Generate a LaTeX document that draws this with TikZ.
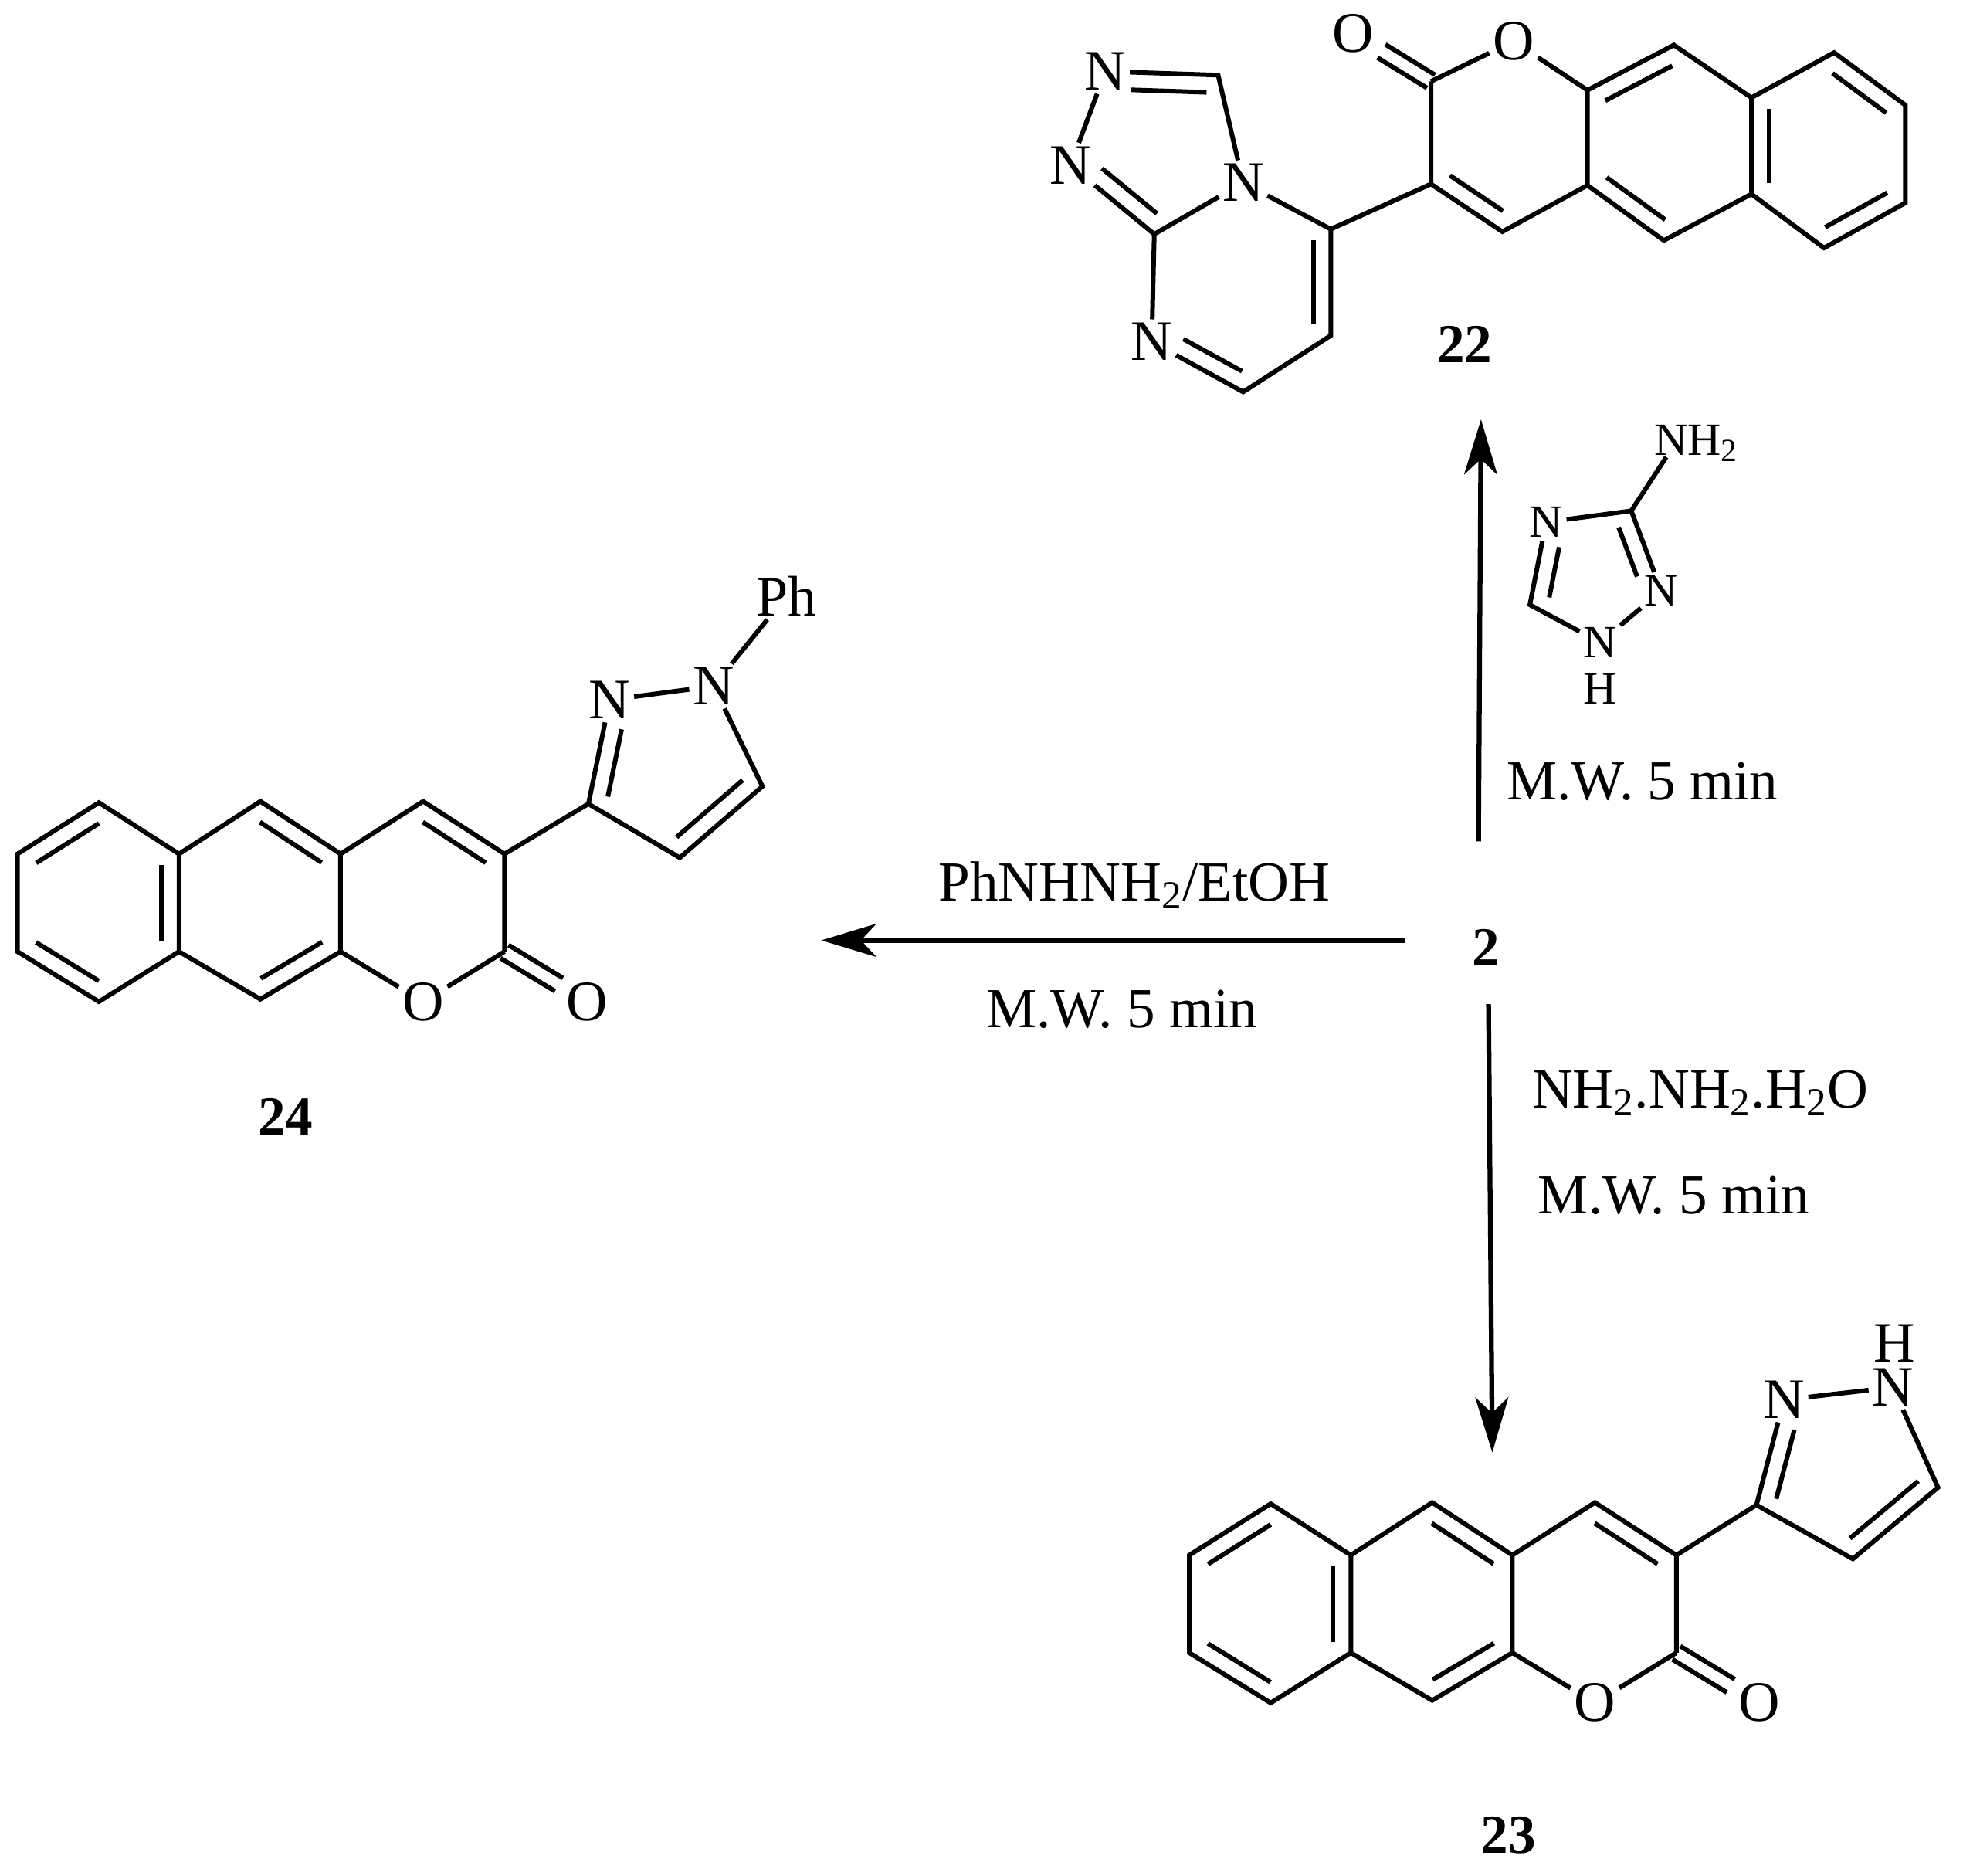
\documentclass[tikz,border=0pt]{standalone}
\usepackage{fontspec}
\setmainfont{Liberation Serif}
\usetikzlibrary{calc,arrows.meta}
\tikzset{
  bond/.style={line width=2.1pt},
  rxn/.style={line width=2.2pt,-{Stealth[length=25pt,width=15pt,inset=7pt]}},
  atom/.style={inner sep=1.5pt,font=\fontsize{26}{28}\selectfont},
  ratom/.style={inner sep=1.5pt,font=\fontsize{21}{23}\selectfont},
  lbl/.style={inner sep=0pt,font=\fontsize{25.7}{27}\selectfont},
  cmpd/.style={inner sep=0pt,font=\fontsize{25}{27}\selectfont\bfseries}
}
% inner line of a double bond, on the left of a->b
\newcommand{\inbond}[4]{\draw[bond,shorten <=#3,shorten >=#4] ($(#1)!8pt!90:(#2)$) -- ($(#2)!8pt!-90:(#1)$);}
\newcommand{\sidebond}[3]{\draw[bond,shorten >=15pt] ($(#1)!#3!90:(#2)$) -- ($(#2)!#3!-90:(#1)$);}
\newcommand{\bccoords}{
  \coordinate (c1) at (143,682);
  \coordinate (c2) at (79,641);
  \coordinate (c3) at (14,682);
  \coordinate (c4) at (14,760);
  \coordinate (c5) at (79,800);
  \coordinate (c6) at (143,760);
  \coordinate (c7) at (208,640);
  \coordinate (c8) at (272,682);
  \coordinate (c9) at (272,760);
  \coordinate (c10) at (208,798);
  \coordinate (c11) at (338,640);
  \coordinate (c12) at (403,682);
  \coordinate (c13) at (403,760);
  \node[atom] (o1) at (338,800) {O};
  \node[atom] (o2) at (469,800) {O};
}
\newcommand{\bcbonds}{
  \draw[bond] (c1) -- (c2) -- (c3) -- (c4) -- (c5) -- (c6) -- cycle;
  \draw[bond] (c1) -- (c7) -- (c8) -- (c9) -- (c10) -- (c6);
  \draw[bond] (c8) -- (c11) -- (c12) -- (c13);
  \draw[bond] (c9) -- (o1) -- (c13);
  \inbond{c2}{c3}{5pt}{5pt}
  \inbond{c4}{c5}{5pt}{5pt}
  \inbond{c6}{c1}{5pt}{5pt}
  \inbond{c8}{c7}{5pt}{5pt}
  \inbond{c10}{c9}{5pt}{5pt}
  \inbond{c12}{c11}{5pt}{5pt}
  \sidebond{c13}{o2}{3.5pt}
  \sidebond{c13}{o2}{-3.5pt}
}
\begin{document}
\begin{tikzpicture}[x=0.02cm,y=-0.02cm]
 \useasboundingbox (0,0) rectangle (1568,1498);
 % compound 22
 \begin{scope}[name prefix=a-]
  \coordinate (c1) at (1399,155);
  \coordinate (c2) at (1457,198);
  \coordinate (c3) at (1522,162);
  \coordinate (c4) at (1522,84);
  \coordinate (c5) at (1465,42);
  \coordinate (c6) at (1399,78);
  \coordinate (c7) at (1329,192);
  \coordinate (c8) at (1268,148);
  \coordinate (c9) at (1268,72);
  \coordinate (c10) at (1337,36);
  \coordinate (c11) at (1200,185);
  \coordinate (c12) at (1143,147);
  \coordinate (c13) at (1143,65);
  \node[atom] (o1) at (1209,33) {O};
  \node[atom] (o2) at (1081,27) {O};
  \bcbonds
 \end{scope}
 \node[atom] (tn1) at (883,57) {N};
 \node[atom] (tn2) at (855,132) {N};
 \node[atom] (tn3) at (993,146) {N};
 \node[atom] (tn4) at (920,273) {N};
 \coordinate (tc1) at (973,60);
 \coordinate (tc2) at (922,187);
 \coordinate (pc1) at (993,313);
 \coordinate (pc2) at (1063,268);
 \coordinate (pc3) at (1063,183);
 \draw[bond] (tn1) -- (tc1) -- (tn3) -- (tc2) -- (tn2) -- (tn1);
 \draw[bond] (tc2) -- (tn4) -- (pc1) -- (pc2) -- (pc3) -- (tn3);
 \draw[bond] (pc3) -- (a-c12);
 \inbond{tc1}{tn1}{5pt}{12pt}
 \inbond{tn2}{tc2}{12pt}{5pt}
 \inbond{tn4}{pc1}{12pt}{5pt}
 \inbond{pc2}{pc3}{5pt}{5pt}
 \node[cmpd] (p22) at (1170,275) {22};
 % aminotriazole reagent
 \node[ratom] (nh) at (1355,354) {NH\textsubscript{2}};
 \node[ratom] (rn1) at (1235,417) {N};
 \node[ratom] (rn2) at (1278,513) {N};
 \node[ratom] (rn3) at (1327,472) {N};
 \node[ratom] (rh) at (1278,550) {H};
 \coordinate (rc1) at (1303,408);
 \coordinate (rc2) at (1222,483);
 \coordinate (nhend) at (1331,365);
 \draw[bond] (rn1) -- (rc1) -- (rn3) -- (rn2) -- (rc2) -- (rn1);
 \draw[bond] (rc1) -- (nhend);
 \inbond{rn1}{rc2}{10pt}{5pt}
 \inbond{rn3}{rc1}{10pt}{5pt}
 % compound 24
 \begin{scope}[name prefix=b-]
  \bccoords
  \bcbonds
 \end{scope}
 \node[atom] (bn1) at (487,559) {N};
 \node[atom] (bn2) at (570,548) {N};
 \node[atom] (ph) at (628,476) {Ph};
 \coordinate (bc3) at (470,642);
 \coordinate (bc4) at (609,628);
 \coordinate (bc5) at (543,685);
 \draw[bond] (b-c12) -- (bc3) -- (bn1) -- (bn2) -- (bc4) -- (bc5) -- (bc3);
 \draw[bond] (bn2) -- (ph);
 \inbond{bn1}{bc3}{12pt}{5pt}
 \inbond{bc5}{bc4}{5pt}{5pt}
 \node[cmpd] (p24) at (228,892) {24};
 % compound 23
 \begin{scope}[shift={(936,560)},name prefix=c-]
  \bccoords
  \bcbonds
 \end{scope}
 \node[atom] (cn1) at (1425,1118) {N};
 \node[atom] (cn2) at (1512,1108) {N};
 \node[atom,inner sep=0pt] (ch) at (1513,1073) {H};
 \coordinate (cc3) at (1403,1202);
 \coordinate (cc4) at (1548,1188);
 \coordinate (cc5) at (1480,1245);
 \draw[bond] (c-c12) -- (cc3) -- (cn1) -- (cn2) -- (cc4) -- (cc5) -- (cc3);
 \inbond{cn1}{cc3}{12pt}{5pt}
 \inbond{cc5}{cc4}{5pt}{5pt}
 \node[cmpd] (p23) at (1205,1466) {23};
 % arrows
 \node[cmpd] (s2) at (1187,757) {2};
 \coordinate (upS) at (1181,672);
 \coordinate (upE) at (1183,335);
 \coordinate (leftS) at (1122,751);
 \coordinate (leftE) at (656,751);
 \coordinate (downS) at (1189,802);
 \coordinate (downE) at (1192,1160);
 \draw[rxn] (upS) -- (upE);
 \draw[rxn] (leftS) -- (leftE);
 \draw[rxn] (downS) -- (downE);
 \node[lbl] (t1) at (1312,624) {M.W. 5 min};
 \node[lbl] (t2) at (906,707) {PhNHNH\textsubscript{2}/EtOH};
 \node[lbl] (t3) at (896,806) {M.W. 5 min};
 \node[lbl] (t4) at (1358,873) {NH\textsubscript{2}.NH\textsubscript{2}.H\textsubscript{2}O};
 \node[lbl] (t5) at (1337,955) {M.W. 5 min};
\end{tikzpicture}
\end{document}
